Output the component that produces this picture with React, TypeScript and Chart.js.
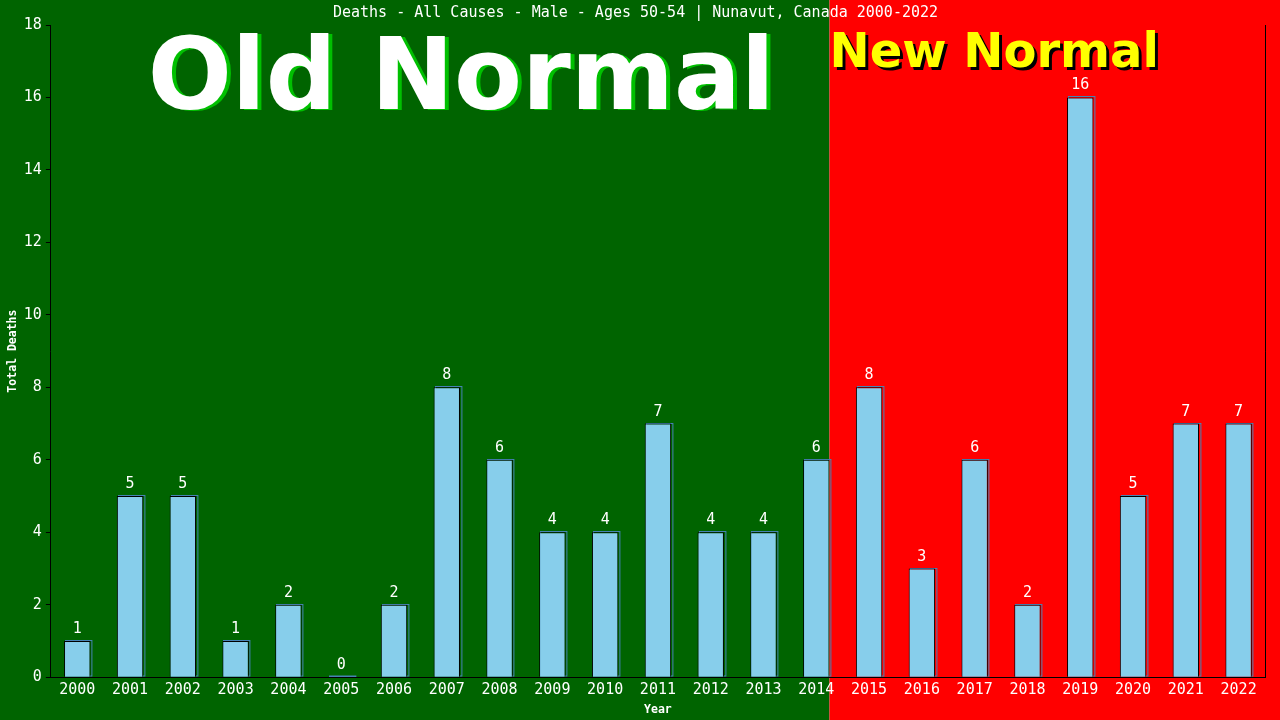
import React, { useEffect, useRef } from "react";
import Chart from "chart.js/auto";

const years = ["2000","2001","2002","2003","2004","2005","2006","2007","2008","2009","2010","2011","2012","2013","2014","2015","2016","2017","2018","2019","2020","2021","2022"];
const deaths = [1,5,5,1,2,0,2,8,6,4,4,7,4,4,6,8,3,6,2,16,5,7,7];
const titleText = "Deaths - All Causes - Male - Ages 50-54 | Nunavut, Canada 2000-2022";
const oldLabel = "Old Normal";
const newLabel = "New Normal";
const splitIndex = 14; // last "old normal" category

const MONO = "'DejaVu Sans Mono', monospace";

export default function App() {
  const ref = useRef<HTMLCanvasElement | null>(null);
  useEffect(() => {
    document.body.style.margin = "0";
    const canvas = ref.current!;
    const splitX = (chart: any) => {
      const xs = chart.scales.x;
      const a = xs.getPixelForValue(splitIndex);
      const b = xs.getPixelForValue(splitIndex + 1);
      return a + (b - a) * 0.25;
    };
    const bgPlugin = {
      id: "bg",
      beforeDraw(chart: any) {
        const { ctx, width, height, chartArea } = chart;
        const sx = splitX(chart);
        ctx.save();
        ctx.fillStyle = "#006400";
        ctx.fillRect(0, 0, sx, height);
        ctx.fillStyle = "#FF0000";
        ctx.fillRect(sx, 0, width - sx, height);
        // Old Normal
        ctx.font = "bold 99px 'DejaVu Sans'";
        ctx.textAlign = "center";
        ctx.textBaseline = "alphabetic";
        const ocx = (chartArea.left + sx) / 2 + 21;
        ctx.fillStyle = "#00C000";
        ctx.fillText(oldLabel, ocx + 4, 110);
        ctx.fillStyle = "#FFFFFF";
        ctx.fillText(oldLabel, ocx, 109);
        // New Normal
        ctx.font = "bold 48px 'DejaVu Sans'";
        ctx.textAlign = "left";
        ctx.fillStyle = "#000000";
        ctx.fillText(newLabel, sx + 3, 70);
        ctx.fillStyle = "#FFFF00";
        ctx.fillText(newLabel, sx, 67);
        ctx.restore();
      },
      beforeDatasetsDraw(chart: any) {
        const { ctx } = chart;
        const meta = chart.getDatasetMeta(0);
        ctx.save();
        ctx.strokeStyle = "#4682B4";
        ctx.lineWidth = 1;
        meta.data.forEach((bar: any) => {
          const w = bar.width;
          const left = Math.round(bar.x - w / 2) + 1.5;
          const top = Math.round(bar.y) - 0.5;
          const bottom = Math.round(bar.base);
          ctx.strokeRect(left, top, w, bottom - top - 1);
        });
        ctx.restore();
      },
      afterDatasetsDraw(chart: any) {
        const { ctx, chartArea } = chart;
        const meta = chart.getDatasetMeta(0);
        ctx.save();
        ctx.fillStyle = "#FFFFFF";
        ctx.font = `15px ${MONO}`;
        ctx.textAlign = "center";
        ctx.textBaseline = "alphabetic";
        meta.data.forEach((bar: any, i: number) => {
          ctx.fillText(String(deaths[i]), bar.x, bar.y - 8);
        });
        ctx.strokeStyle = "#000000";
        ctx.lineWidth = 1;
        ctx.beginPath();
        ctx.moveTo(Math.round(chartArea.right) + 0.5, chartArea.top);
        ctx.lineTo(Math.round(chartArea.right) + 0.5, chartArea.bottom);
        ctx.stroke();
        ctx.restore();
      },
    };
    const chart = new Chart(canvas, {
      type: "bar",
      data: {
        labels: years,
        datasets: [
          {
            data: deaths,
            backgroundColor: "#87CEEB",
            borderColor: "#000000",
            borderWidth: 1,
            barPercentage: 0.5,
            categoryPercentage: 1.0,
          },
        ],
      },
      options: {
        animation: false,
        responsive: false,
        devicePixelRatio: 1,
        layout: { padding: { left: 6, right: 15, top: 0, bottom: 3 } },
        plugins: {
          legend: { display: false },
          tooltip: { enabled: false },
          title: {
            display: true,
            text: titleText,
            color: "#FFFFFF",
            font: { family: MONO, size: 15, weight: "normal" },
            padding: { top: 4, bottom: 3 },
          },
        },
        scales: {
          x: {
            grid: { display: false, drawTicks: false },
            border: { display: true, color: "#000000", width: 1 },
            ticks: { color: "#FFFFFF", font: { family: MONO, size: 15 }, maxRotation: 0, autoSkip: false, padding: 4 },
            title: { display: true, text: "Year", color: "#FFFFFF", font: { family: MONO, size: 11.5, weight: "bold" }, padding: { top: 0, bottom: 0 } },
          },
          y: {
            min: 0,
            max: 18,
            ticks: { stepSize: 2, color: "#FFFFFF", font: { family: MONO, size: 15 }, padding: 4 },
            grid: { display: true, drawOnChartArea: false, drawTicks: true, tickLength: 5, color: "#000000" },
            border: { display: true, color: "#000000", width: 1 },
            title: { display: true, text: "Total Deaths", color: "#FFFFFF", font: { family: MONO, size: 11.5, weight: "bold" }, padding: { top: 0, bottom: 0 } },
          },
        },
      },
      plugins: [bgPlugin],
    });
    return () => chart.destroy();
  }, []);
  return <canvas ref={ref} width={1280} height={720} style={{ display: "block", width: 1280, height: 720 }} />;
}
